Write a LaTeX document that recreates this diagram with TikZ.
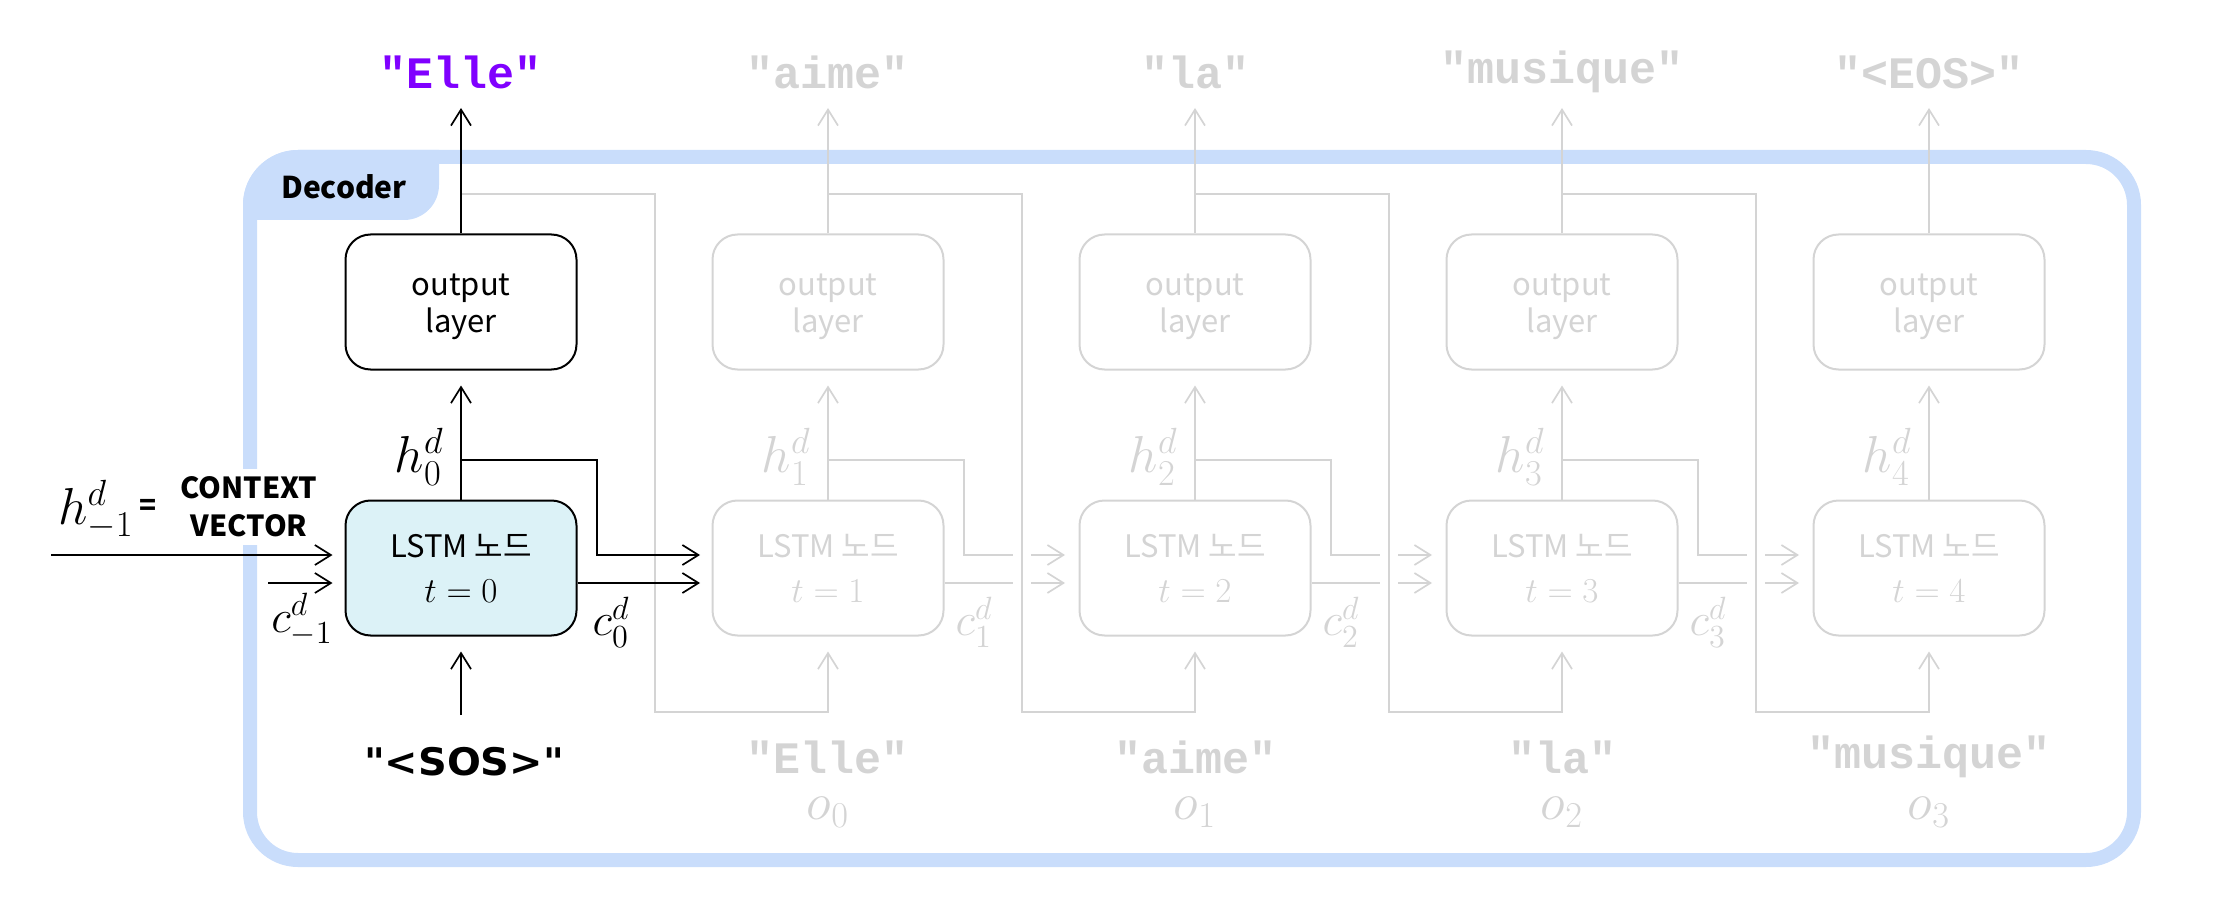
\RequirePackage{fix-cm}
\documentclass[tikz,border=0pt]{standalone}
\usepackage{fontspec}
\usetikzlibrary{arrows.meta,calc}
\newfontfamily\krfont{Noto Sans CJK KR}
\newfontfamily\cour{Liberation Mono}
\newfontfamily\sosfont{DejaVu Sans}
\definecolor{framec}{HTML}{C9DDFB}
\definecolor{lgray}{HTML}{D4D4D4}
\definecolor{purp}{HTML}{8000FF}
\definecolor{cellfill}{HTML}{DCF2F7}
\tikzset{
  arr/.style={-{Straight Barb[length=8pt,width=10pt]}, line width=0.85pt},
  ln/.style={line width=0.85pt},
  garr/.style={arr, draw=lgray},
  gln/.style={ln, draw=lgray},
  boxs/.style={draw, rounded corners=12.5pt, minimum width=115.5pt, minimum height=67.5pt,
    line width=1pt, align=center, inner sep=0pt},
  boxtxt/.style={align=center, inner sep=0pt, font=\krfont\fontsize{15.5}{18.5}\selectfont},
  lstms/.style={boxs, font=\krfont\fontsize{15.5}{22.5}\selectfont},
  word/.style={font=\cour\bfseries\fontsize{22.5}{27}\selectfont, inner sep=0pt},
  mathl/.style={font=\fontsize{26}{30}\selectfont, inner sep=0pt},
  cl/.style={font=\fontsize{23}{27}\selectfont, inner sep=0pt},
}
\begin{document}
\begin{tikzpicture}[x=0.5pt,y=-0.5pt]
\useasboundingbox (0,0) rectangle (2233,909);
% frame and tab
\begin{scope}
  \clip[rounded corners=27.5pt] (243,150) rectangle (2141,867);
  \fill[framec, rounded corners=17.5pt] (200,100) rectangle (439,220);
\end{scope}
\draw[framec, line width=7pt, rounded corners=24pt] (250,157) rectangle (2134,860);
\node[font=\krfont\bfseries\fontsize{15}{18}\selectfont, inner sep=0pt] (dec) at (344,187) {Decoder};

% boxes
\node[boxs] (out0) at (461,302) {};
\node[boxtxt] (out0t) at (461,307) {output\\layer};
\node[lstms, fill=cellfill] (lstm0) at (461,568) {LSTM 노드\\{\fontsize{17.5}{22.5}\selectfont$t=0$}};
\foreach \k/\x in {1/828,2/1195,3/1562,4/1929}{
  \node[boxs, draw=lgray] (out\k) at (\x,302) {};
  \node[boxtxt, text=lgray] (out\k t) at (\x,307) {output\\layer};
  \node[lstms, draw=lgray, text=lgray] (lstm\k) at (\x,568) {LSTM 노드\\{\fontsize{17.5}{22.5}\selectfont$t=\k$}};
}

% feedback paths (gray)
\foreach \k/\x in {0/461,1/828,2/1195,3/1562}{
  \pgfmathtruncatemacro\n{\k+1}
  \coordinate (fb\k) at (\x,194);
  \coordinate (fbc\k) at (\x+194,712);
  \draw[garr, shorten >=7.5pt] (fb\k) -| (fbc\k) -| (lstm\n.south);
}

% gray h / c lines with gaps
\foreach \k/\x in {1/828,2/1195,3/1562}{
  \coordinate (hb\k) at (\x,460);
  \coordinate (hc\k) at (\x+136,555);
  \coordinate (hg\k) at (\x+185,555);
  \coordinate (hs\k) at (\x+203,555);
  \coordinate (he\k) at (\x+237,555);
  \coordinate (cg\k) at (\x+185,583);
  \coordinate (cs\k) at (\x+203,583);
  \coordinate (ce\k) at (\x+237,583);
  \draw[gln] (hb\k) -| (hc\k) -- (hg\k);
  \draw[garr] (hs\k) -- (he\k);
  \draw[gln] ($(lstm\k.east)+(0,15)$) -- (cg\k);
  \draw[garr] (cs\k) -- (ce\k);
}

% gray vertical arrows and labels
\foreach \k/\x/\w in {1/828/"aime",2/1195/"la",3/1562/"musique",4/1929/"<EOS>"}{
  \coordinate (tip\k) at (\x,108);
  \draw[garr] (out\k.north) -- (tip\k);
  \draw[garr, shorten >=7.5pt] (lstm\k.north) -- (out\k.south);
  \node[word, text=lgray] (top\k) at (\x,72) {\w};
  \node[mathl, anchor=east, text=lgray] (h\k) at (\x-17,457) {$h^d_{\k}$};
}
\foreach \k/\x in {1/828,2/1195,3/1562}{
  \node[cl, text=lgray] (c\k) at (\x+146,622) {$c^d_{\k}$};
}
\foreach \k/\x/\w in {1/828/"Elle",2/1195/"aime",3/1562/"la",4/1929/"musique"}{
  \pgfmathtruncatemacro\m{\k-1}
  \node[word, text=lgray] (in\k) at (\x,757) {\w};
  \node[mathl, text=lgray] (o\k) at (\x,812) {$o_{\m}$};
}

% column 0 (black)
\coordinate (tip0) at (461,108);
\draw[arr] (out0.north) -- (tip0);
\node[word, text=purp] (top0) at (461,72) {"Elle"};
\draw[arr, shorten >=7.5pt] (lstm0.north) -- (out0.south);
\coordinate (sosin) at (461,715);
\draw[arr, shorten >=7.5pt] (sosin) -- (lstm0.south);
\node[inner sep=0pt, font=\sosfont\bfseries\fontsize{19}{22}\selectfont] (sos) at (464,762) {\scalebox{1.05}[1]{"<SOS>"}};
\node[mathl, anchor=east] (h0) at (444,457) {$h^d_{0}$};
\coordinate (hb0) at (461,460);
\coordinate (hc0) at (597,555);
\coordinate (he0) at (700,555);
\draw[arr] (hb0) -| (hc0) -- (he0);
\coordinate (ce0) at (700,583);
\draw[arr] ($(lstm0.east)+(0,15)$) -- (ce0);
\node[cl] (c0) at (611,622) {$c^d_{0}$};

% inputs on the left
\node[fill=white, inner sep=4pt, align=center, font=\krfont\bfseries\fontsize{14.5}{19}\selectfont] (ctx) at (249,507) {CONTEXT\\VECTOR};
\node[inner sep=0pt, font=\krfont\bfseries\fontsize{14}{16}\selectfont] (eq) at (148,507) {=};
\node[mathl] (hm1) at (96,510) {$h^d_{-1}$};
\coordinate (hin) at (51,555);
\draw[arr, shorten >=6pt] (hin) -- (hin -| lstm0.west);
\coordinate (cin) at (268,583);
\draw[arr, shorten >=6pt] (cin) -- (cin -| lstm0.west);
\node[cl] (cm1) at (302,620) {$c^d_{-1}$};
\end{tikzpicture}
\end{document}
